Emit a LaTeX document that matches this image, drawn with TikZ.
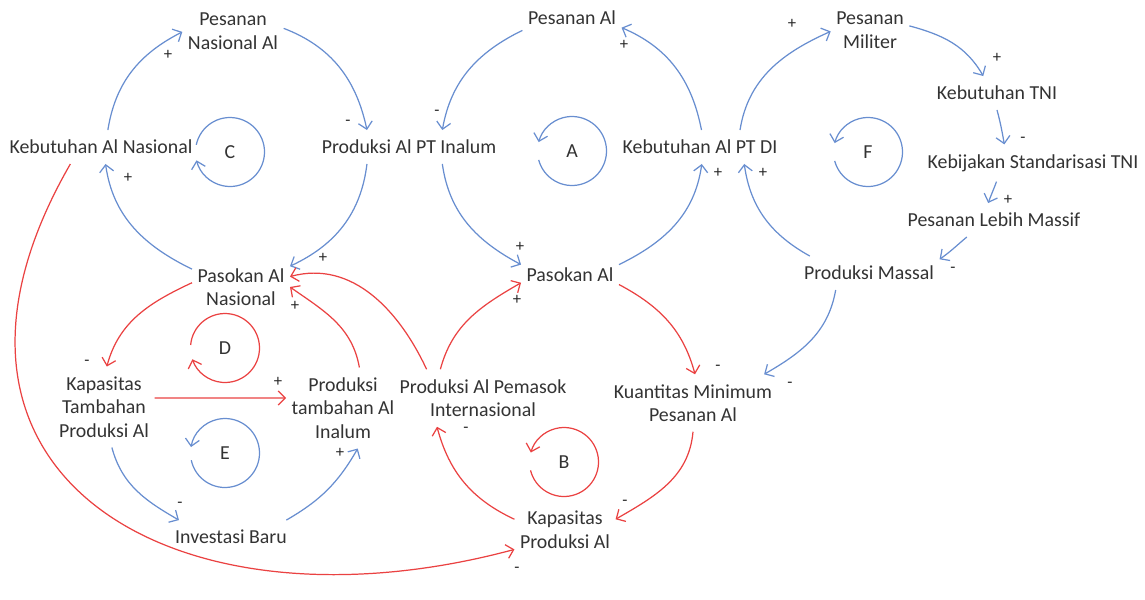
\documentclass[tikz,border=0pt]{standalone}
\usepackage{fontspec}
\setmainfont{Carlito}
\usetikzlibrary{arrows.meta}
\definecolor{cblue}{RGB}{104,142,208}
\definecolor{cred}{RGB}{234,66,66}

\begin{document}
\begin{tikzpicture}[x=0.02cm,y=-0.02cm,
  var/.style={align=center,inner xsep=3pt,inner ysep=5.5pt,text=black!80,font=\fontsize{11.3}{13.4}\selectfont},
  sgn/.style={inner sep=0pt,text=black!85,font=\fontsize{9.5}{9.5}\selectfont},
  lp/.style={inner sep=0pt,text=black!80,font=\fontsize{11.3}{13.4}\selectfont},
  bluelink/.style={draw=cblue,line width=.7pt,-{Straight Barb[length=4pt,width=8pt]}},
  redlink/.style={draw=cred,line width=.7pt,-{Straight Barb[length=4pt,width=8pt]}}]
 \useasboundingbox (0,0) rectangle (1145,599);

 % variables
 \node[var] (pna) at (233,31) {Pesanan\\Nasional Al};
 \node[var] (kan) at (101,147) {Kebutuhan Al Nasional};
 \node[var] (pti) at (409,147) {Produksi Al PT Inalum};
 \node[var] (psn) at (241,287) {Pasokan Al\\Nasional};
 \node[var] (pal) at (572,18) {Pesanan Al};
 \node[var] (kdi) at (700,147) {Kebutuhan Al PT DI};
 \node[var] (psa) at (570,275) {Pasokan Al};
 \node[var] (pmi) at (870,30) {Pesanan\\Militer};
 \node[var] (ktn) at (997,93) {Kebutuhan TNI};
 \node[var] (kst) at (1033,163) {Kebijakan Standarisasi TNI};
 \node[var] (plm) at (994,220) {Pesanan Lebih Massif};
 \node[var] (pms) at (869,273) {Produksi Massal};
 \node[var] (ktp) at (104,407) {Kapasitas\\Tambahan\\Produksi Al};
 \node[var] (ptb) at (343,408) {Produksi\\tambahan Al\\Inalum};
 \node[var] (ppi) at (483,398) {Produksi Al Pemasok\\Internasional};
 \node[var] (kmp) at (693,403) {Kuantitas Minimum\\Pesanan Al};
 \node[var] (kpa) at (565,530) {Kapasitas\\Produksi Al};
 \node[var] (ivb) at (231,537) {Investasi Baru};

 % loop C
 \draw[bluelink] (kan.68) to[out=81,in=207] (pna.181);
 \draw[bluelink] (pna.3) to[out=-21,in=102] (pti.158);
 \draw[bluelink] (pti.202) to[out=-97,in=25] (psn.23);
 \draw[bluelink] (psn.160) to[out=154,in=-82] (kan.-75);
 % loop A
 \draw[bluelink] (pal.194) to[out=206,in=80] (pti.27);
 \draw[bluelink] (pti.-27) to[out=-82,in=152] (psa.168);
 \draw[bluelink] (psa.12) to[out=26,in=262] (kdi.-84);
 \draw[bluelink] (kdi.85) to[out=101,in=-23] (pal.-11);
 % loop F
 \draw[bluelink] (kdi.23) to[out=81,in=204] (pmi.182);
 \draw[bluelink] (pmi.6) to[out=-15,in=120] (ktn.129);
 \draw[bluelink] (ktn.-90) to[out=-75,in=100] (kst.147);
 \draw[bluelink] (kst.207) to[out=-110,in=70] (plm.109);
 \draw[bluelink] (plm.212) to[out=-140,in=35] (pms.11);
 \draw[bluelink] (pms.164) to[out=151,in=278] (kdi.-21);
 \draw[bluelink] (pms.207) to[out=-100,in=30] (kmp.22);
 % loops D, E, B
 \draw[redlink] (psn.175) to[out=-155,in=75] (ktp.86);
 \draw[redlink] (ktp.10) -- (ptb.170);
 \draw[redlink] (ptb.68) to[out=100,in=-35] (psn.0);
 \draw[redlink] (ppi.153) to[out=115,in=15] (psn.12);
 \draw[redlink] (ppi.146) to[out=75,in=210] (psa.189);
 \draw[redlink] (psa.-11) to[out=-28,in=105] (kmp.86);
 \draw[redlink] (kmp.-90) to[out=-95,in=30] (kpa.12);
 \draw[redlink] (kpa.168) to[out=155,in=-75] (ppi.212);
 \draw[bluelink] (ktp.-79) to[out=-75,in=150] (ivb.162);
 \draw[bluelink] (ivb.17) to[out=30,in=240] (ptb.-70);
 \draw[redlink] (kan.209) to[out=-120,in=195,looseness=1.55] (kpa.201);

 % loop symbols
 \coordinate (cc) at (230,152);
 \coordinate (ca) at (572,151);
 \coordinate (cf) at (868,152);
 \coordinate (cd) at (225,348);
 \coordinate (ce) at (225,453);
 \coordinate (cb) at (564,462);
 \draw[bluelink] (cc) ++(168:0.69cm) arc[start angle=168,end angle=-166,radius=0.69cm];
 \draw[bluelink] (ca) ++(195:0.69cm) arc[start angle=195,end angle=525,radius=0.69cm];
 \draw[bluelink] (cf) ++(195:0.69cm) arc[start angle=195,end angle=525,radius=0.69cm];
 \draw[redlink] (cd) ++(175:0.69cm) arc[start angle=175,end angle=-161,radius=0.69cm];
 \draw[bluelink] (ce) ++(192:0.69cm) arc[start angle=192,end angle=530,radius=0.69cm];
 \draw[redlink] (cb) ++(194:0.69cm) arc[start angle=194,end angle=524,radius=0.69cm];
 \node[lp] (lc) at (cc) {C};
 \node[lp] (la) at (ca) {A};
 \node[lp] (lf) at (cf) {F};
 \node[lp] (ld) at (cd) {D};
 \node[lp] (le) at (ce) {E};
 \node[lp] (lb) at (cb) {B};

 % polarities
 \node[sgn] (s1) at (168,55) {+};
 \node[sgn] (s2) at (348,123) {-};
 \node[sgn] (s3) at (323,258) {+};
 \node[sgn] (s4) at (128,178) {+};
 \node[sgn] (s5) at (437,113) {-};
 \node[sgn] (s6) at (520,247) {+};
 \node[sgn] (s7) at (718,173) {+};
 \node[sgn] (s8) at (624,45) {+};
 \node[sgn] (s9) at (792,24) {+};
 \node[sgn] (s10) at (997,58) {+};
 \node[sgn] (s11) at (1023,140) {-};
 \node[sgn] (s12) at (1008,200) {+};
 \node[sgn] (s13) at (953,270) {-};
 \node[sgn] (s14) at (763,173) {+};
 \node[sgn] (s15) at (790,385) {-};
 \node[sgn] (s16) at (87,363) {-};
 \node[sgn] (s17) at (278,382) {+};
 \node[sgn] (s18) at (295,306) {+};
 \node[sgn] (s19) at (517,300) {+};
 \node[sgn] (s20) at (718,368) {-};
 \node[sgn] (s21) at (625,503) {-};
 \node[sgn] (s22) at (466,430) {-};
 \node[sgn] (s23) at (180,505) {-};
 \node[sgn] (s24) at (340,453) {+};
 \node[sgn] (s25) at (517,570) {-};
\end{tikzpicture}
\end{document}
